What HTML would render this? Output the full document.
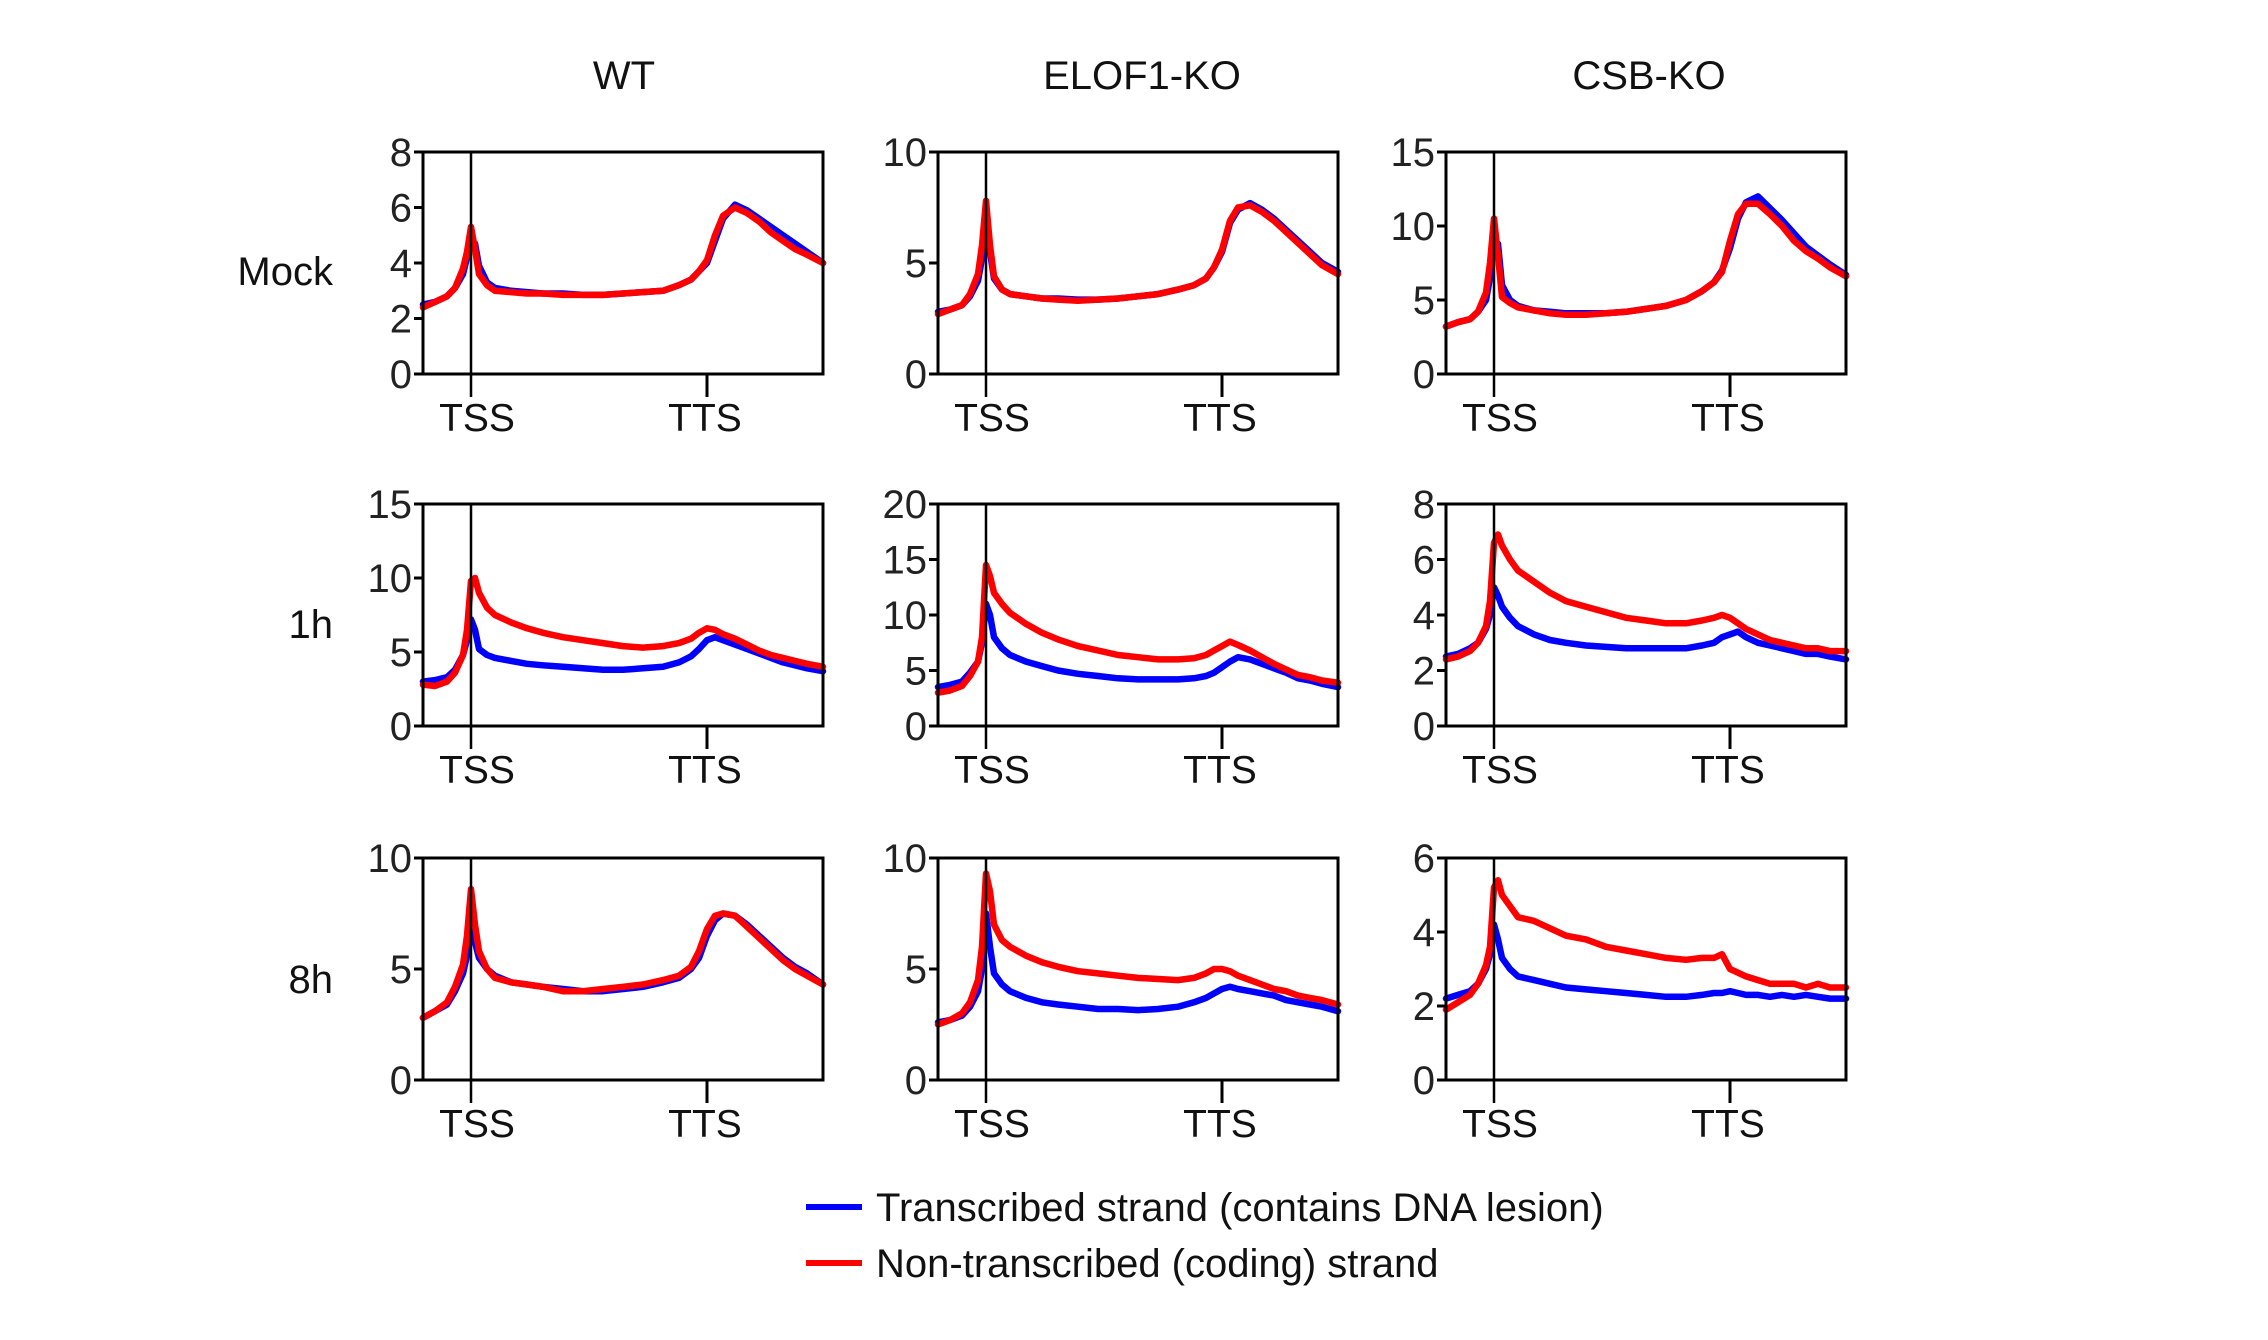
<!DOCTYPE html>
<html><head><meta charset="utf-8"><style>
html,body{margin:0;padding:0;background:#fff;}
svg{display:block;font-family:"Liberation Sans",Arial,sans-serif;}
</style></head><body>
<svg id="fig" width="2268" height="1340" viewBox="0 0 2268 1340" xmlns="http://www.w3.org/2000/svg">
<text x="624" y="89" font-size="40" text-anchor="middle" fill="#111">WT</text>
<text x="1142" y="89" font-size="40" text-anchor="middle" fill="#111">ELOF1-KO</text>
<text x="1649" y="89" font-size="40" text-anchor="middle" fill="#111">CSB-KO</text>
<text x="333" y="285" font-size="40" text-anchor="end" fill="#111">Mock</text>
<text x="333" y="638" font-size="40" text-anchor="end" fill="#111">1h</text>
<text x="333" y="993" font-size="40" text-anchor="end" fill="#111">8h</text>
<g>
<line x1="806" y1="1207" x2="862" y2="1207" stroke="#0000ff" stroke-width="6"/>
<text x="876" y="1221" font-size="40" fill="#111">Transcribed strand (contains DNA lesion)</text>
<line x1="806" y1="1263" x2="862" y2="1263" stroke="#ff0000" stroke-width="6"/>
<text x="876" y="1277" font-size="40" fill="#111">Non-transcribed (coding) strand</text>
</g>
<g id="panels"></g>
</svg>
<script>
const xs = [0,3,6,8,10,11,12,13,14,16,18,22,26,30,35,40,45,50,55,60,64,67,69,71,73,75,78,81,84,87,90,93,96,100];
const tssPos = 12, ttsPos = 71;
const panelNames = ["wt-mock","elof1-mock","csb-mock","wt-1h","elof1-1h","csb-1h","wt-8h","elof1-8h","csb-8h"];
const yMax = [8,10,15,15,20,8,10,10,6];
const yTicks = [[0,2,4,6,8],[0,5,10],[0,5,10,15],[0,5,10,15],[0,5,10,15,20],[0,2,4,6,8],[0,5,10],[0,5,10],[0,2,4,6]];
const blue = [
[2.5,2.6,2.8,3.1,3.6,4.2,4.8,4.7,3.9,3.3,3.1,3.0,2.95,2.9,2.9,2.85,2.85,2.9,2.95,3.0,3.2,3.4,3.7,4.0,4.8,5.6,6.1,5.9,5.6,5.3,5.0,4.7,4.4,4.0],
[2.8,2.9,3.1,3.5,4.2,5.2,7.0,5.5,4.3,3.8,3.6,3.5,3.4,3.4,3.35,3.35,3.4,3.5,3.6,3.8,4.0,4.3,4.8,5.5,6.8,7.4,7.7,7.4,7.0,6.5,6.0,5.5,5.0,4.6],
[3.2,3.5,3.7,4.2,5.0,6.5,9.0,8.8,6.0,5.0,4.6,4.3,4.2,4.1,4.1,4.1,4.2,4.4,4.6,5.0,5.6,6.2,7.0,8.5,10.5,11.6,12.0,11.2,10.4,9.5,8.6,8.0,7.4,6.7],
[3.0,3.1,3.3,3.8,4.8,5.8,7.2,6.5,5.2,4.8,4.6,4.4,4.2,4.1,4.0,3.9,3.8,3.8,3.9,4.0,4.3,4.7,5.2,5.8,6.0,5.8,5.5,5.2,4.9,4.6,4.3,4.1,3.9,3.7],
[3.5,3.7,4.0,4.8,5.8,7.5,11.0,10.0,8.0,7.0,6.4,5.8,5.4,5.0,4.7,4.5,4.3,4.2,4.2,4.2,4.3,4.5,4.8,5.3,5.8,6.2,6.0,5.6,5.2,4.8,4.3,4.1,3.8,3.5],
[2.5,2.6,2.8,3.0,3.5,4.0,5.0,4.7,4.3,3.9,3.6,3.3,3.1,3.0,2.9,2.85,2.8,2.8,2.8,2.8,2.9,3.0,3.2,3.3,3.4,3.2,3.0,2.9,2.8,2.7,2.6,2.6,2.5,2.4],
[2.8,3.1,3.4,4.0,4.8,5.6,6.7,6.2,5.5,5.0,4.7,4.4,4.3,4.2,4.1,4.0,4.0,4.1,4.2,4.4,4.6,5.0,5.5,6.5,7.2,7.5,7.4,7.0,6.5,6.0,5.5,5.1,4.8,4.3],
[2.6,2.7,2.9,3.3,4.0,5.0,7.5,6.0,4.8,4.3,4.0,3.7,3.5,3.4,3.3,3.2,3.2,3.15,3.2,3.3,3.5,3.7,3.9,4.1,4.2,4.1,4.0,3.9,3.8,3.6,3.5,3.4,3.3,3.1],
[2.2,2.3,2.4,2.6,3.0,3.4,4.2,3.8,3.3,3.0,2.8,2.7,2.6,2.5,2.45,2.4,2.35,2.3,2.25,2.25,2.3,2.35,2.35,2.4,2.35,2.3,2.3,2.25,2.3,2.25,2.3,2.25,2.2,2.2]
];
const red = [
[2.4,2.6,2.8,3.1,3.8,4.4,5.3,4.5,3.6,3.2,3.0,2.95,2.9,2.9,2.85,2.85,2.85,2.9,2.95,3.0,3.2,3.4,3.7,4.1,5.0,5.7,6.0,5.8,5.5,5.1,4.8,4.5,4.3,4.0],
[2.7,2.9,3.1,3.6,4.5,5.8,7.8,5.8,4.4,3.8,3.6,3.5,3.4,3.35,3.3,3.35,3.4,3.5,3.6,3.8,4.0,4.3,4.8,5.6,6.9,7.5,7.6,7.3,6.9,6.4,5.9,5.4,4.9,4.5],
[3.2,3.5,3.7,4.2,5.5,7.5,10.5,8.0,5.2,4.8,4.5,4.3,4.1,4.0,4.0,4.1,4.2,4.4,4.6,5.0,5.6,6.2,6.9,9.0,10.8,11.5,11.5,10.8,10.0,9.0,8.3,7.8,7.2,6.6],
[2.8,2.7,3.0,3.6,4.8,6.5,9.8,10.0,9.0,8.0,7.5,7.0,6.6,6.3,6.0,5.8,5.6,5.4,5.3,5.4,5.6,5.9,6.3,6.6,6.5,6.2,5.9,5.5,5.1,4.8,4.6,4.4,4.2,4.0],
[3.0,3.2,3.6,4.5,5.8,8.0,14.5,13.5,12.0,11.0,10.2,9.2,8.4,7.8,7.2,6.8,6.4,6.2,6.0,6.0,6.1,6.4,6.8,7.2,7.6,7.3,6.8,6.2,5.6,5.1,4.6,4.4,4.1,3.9],
[2.4,2.5,2.7,3.0,3.6,4.5,6.6,6.9,6.5,6.0,5.6,5.2,4.8,4.5,4.3,4.1,3.9,3.8,3.7,3.7,3.8,3.9,4.0,3.9,3.7,3.5,3.3,3.1,3.0,2.9,2.8,2.8,2.7,2.7],
[2.8,3.1,3.5,4.2,5.2,6.5,8.6,7.0,5.8,5.0,4.6,4.4,4.3,4.2,4.0,4.0,4.1,4.2,4.3,4.5,4.7,5.1,5.8,6.8,7.4,7.5,7.4,6.9,6.4,5.9,5.4,5.0,4.7,4.3],
[2.5,2.7,3.0,3.5,4.5,6.0,9.3,8.5,7.0,6.3,6.0,5.6,5.3,5.1,4.9,4.8,4.7,4.6,4.55,4.5,4.6,4.8,5.0,5.0,4.9,4.7,4.5,4.3,4.1,4.0,3.8,3.7,3.6,3.4],
[1.9,2.1,2.3,2.6,3.1,3.6,5.2,5.4,5.0,4.7,4.4,4.3,4.1,3.9,3.8,3.6,3.5,3.4,3.3,3.25,3.3,3.3,3.4,3.0,2.9,2.8,2.7,2.6,2.6,2.6,2.5,2.6,2.5,2.5]
];
const NS = "http://www.w3.org/2000/svg";
const colLeft = [423, 938, 1446], rowTop = [152, 504, 858], W = 400, H = 222;
const root = document.getElementById('panels');
function mk(tag, attrs, parent) {
  const e = document.createElementNS(NS, tag);
  for (const k in attrs) e.setAttribute(k, attrs[k]);
  parent.appendChild(e);
  return e;
}
for (let p = 0; p < 9; p++) {
  const L = colLeft[p % 3], T = rowTop[Math.floor(p / 3)];
  const g = mk('g', {}, root);
  
  
  const xS = v => L + v / 100 * W;
  const yS = v => T + H - v / yMax[p] * H;
  const mkLine = (arr, col, nm) => {
    const d = arr.map((v, i) => (i ? 'L' : 'M') + xS(xs[i]).toFixed(1) + ' ' + yS(v).toFixed(1)).join(' ');
    const path = mk('path', {d: d, fill: 'none', stroke: col, 'stroke-width': 6.5, 'stroke-linejoin': 'round', 'stroke-linecap': 'round'}, g);
    
    
  };
  mkLine(blue[p], '#0000ff', 'transcribed-line-' + panelNames[p]);
  mkLine(red[p], '#ff0000', 'non-transcribed-line-' + panelNames[p]);
  const frame = mk('rect', {x: L, y: T, width: W, height: H, fill: 'none', stroke: '#000', 'stroke-width': 3}, g);
  
  
  const tx = xS(tssPos);
  const tssLine = mk('line', {x1: tx, y1: T, x2: tx, y2: T + H + 23, stroke: '#000', 'stroke-width': 2.5}, g);
  
  
  const ttx = xS(ttsPos);
  const ttsTick = mk('line', {x1: ttx, y1: T + H, x2: ttx, y2: T + H + 23, stroke: '#000', 'stroke-width': 3}, g);
  
  
  const l1 = mk('text', {x: tx + 6, y: T + H + 57, 'font-size': 39, 'text-anchor': 'middle', fill: '#111'}, g);
  l1.textContent = 'TSS';
  
  
  const l2 = mk('text', {x: ttx - 2, y: T + H + 57, 'font-size': 39, 'text-anchor': 'middle', fill: '#111'}, g);
  l2.textContent = 'TTS';
  
  
  yTicks[p].forEach(v => {
    const y = yS(v);
    const t = mk('line', {x1: L - 9, y1: y, x2: L, y2: y, stroke: '#000', 'stroke-width': 3}, g);
    
    
    const lb = mk('text', {x: L - 11, y: y + 14, 'font-size': 40, 'text-anchor': 'end', fill: '#222'}, g);
    lb.textContent = v;
    
    
  });
}
</script>
</body></html>
